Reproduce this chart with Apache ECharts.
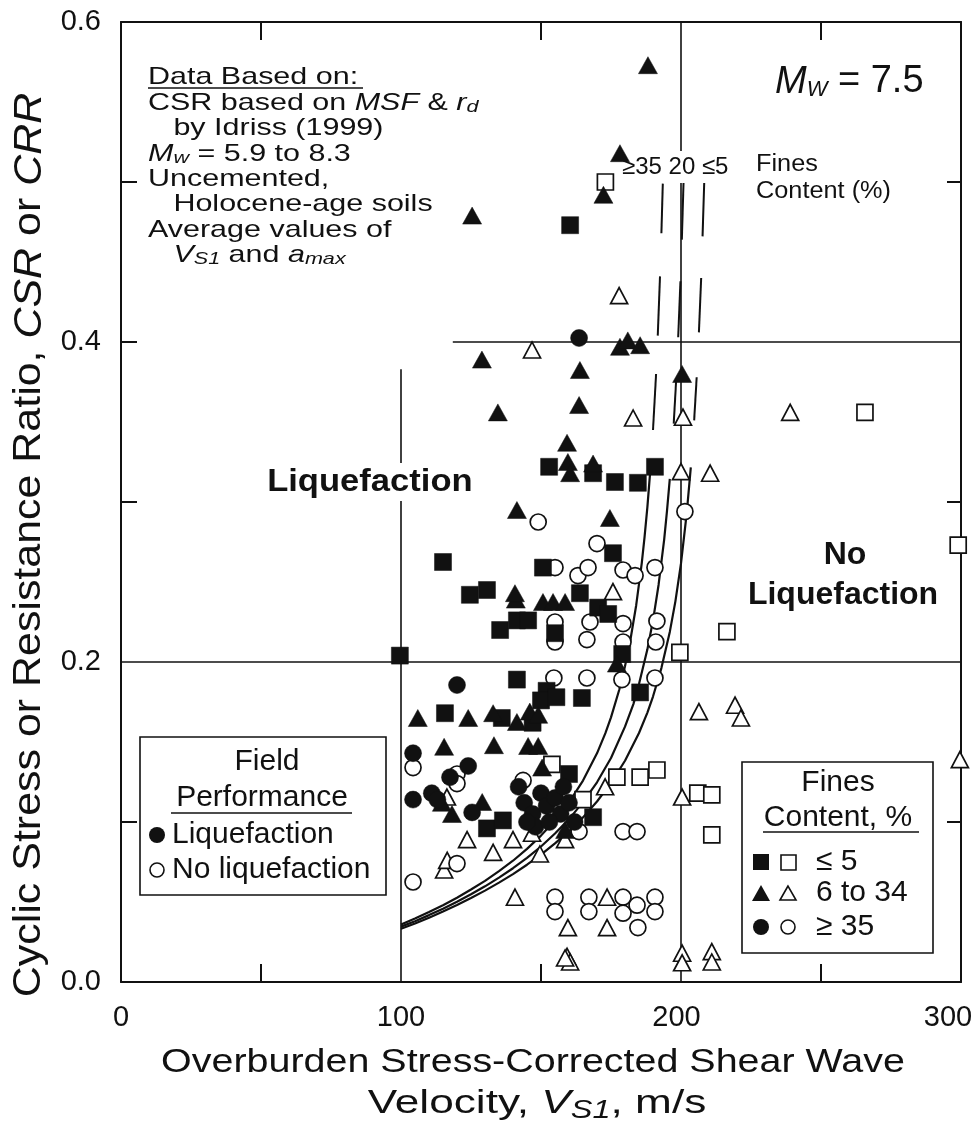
<!DOCTYPE html>
<html><head><meta charset="utf-8">
<script src="https://cdn.jsdelivr.net/npm/echarts@6/dist/echarts.min.js"></script>
<style>html,body{margin:0;padding:0;background:#fff;overflow:hidden}#c{width:980px;height:1134px}</style>
</head><body><div id="c"></div>
<script>
// ---------- data ----------
const xTickLabels = [0, 100, 200, 300];
const yTickLabels = [0.0, 0.2, 0.4, 0.6];
const xMinorTicks = [50, 150, 250];
const yLeftTicks = [0.1, 0.3, 0.4, 0.5];
const yRightTicks = [0.1, 0.3, 0.5];

const liqSquares = [[160.4,0.473],[152.9,0.322],[168.6,0.318],[176.4,0.3125],[184.6,0.312],[190.7,0.322],[175.7,0.268],[115,0.2625],[150.7,0.259],[124.6,0.242],[130.7,0.245],[163.9,0.243],[170.4,0.234],[174,0.23],[155,0.218],[135.4,0.22],[141.4,0.226],[145.4,0.226],[99.6,0.204],[179,0.205],[185.4,0.181],[164.6,0.1775],[141.4,0.189],[152,0.182],[150,0.176],[155.5,0.178],[115.7,0.168],[136,0.165],[147,0.162],[160,0.13],[130.7,0.096],[136.4,0.101],[168.6,0.103]];
const noSquares = [[173,0.5],[265.7,0.356],[299,0.273],[216.4,0.219],[199.6,0.206],[153.9,0.136],[165,0.114],[177.1,0.128],[185.4,0.128],[191.4,0.1325],[206,0.118],[211,0.117],[211,0.092]];
const liqTriangles = [[188.2,0.573],[178.2,0.518],[125.4,0.479],[172.3,0.492],[178.2,0.397],[181,0.401],[185.4,0.398],[128.9,0.389],[163.9,0.3825],[134.6,0.356],[163.6,0.3606],[159.3,0.337],[159.6,0.325],[160.4,0.318],[168.6,0.324],[141.4,0.295],[174.6,0.29],[141,0.239],[150.7,0.2375],[154.3,0.2375],[158.6,0.2375],[140.7,0.243],[200.4,0.38],[177.1,0.199],[106,0.165],[124,0.165],[132.9,0.168],[141.4,0.1625],[146,0.169],[149,0.167],[115.4,0.147],[133.2,0.148],[145.4,0.1475],[149,0.1475],[150.4,0.134],[114.6,0.112],[118.2,0.105],[129,0.1125],[158.6,0.095]];
const noTriangles = [[177.9,0.429],[146.8,0.395],[182.9,0.3525],[200,0.319],[210.4,0.318],[239,0.356],[200.7,0.353],[175.7,0.244],[172.9,0.122],[206.4,0.169],[219.3,0.173],[221.4,0.165],[200.4,0.1156],[299.6,0.139],[115.4,0.07],[116.5,0.076],[123.6,0.089],[132.9,0.081],[140,0.089],[146.8,0.093],[149.6,0.08],[158.6,0.089],[116.4,0.1156],[140.7,0.053],[159.6,0.034],[173.6,0.053],[173.6,0.034],[159.3,0.016],[160.4,0.0125],[158.6,0.015],[200.4,0.018],[200.4,0.012],[211,0.019],[211,0.0125]];
const liqCircles = [[163.6,0.4025],[120,0.1856],[104.3,0.143],[124,0.135],[117.5,0.128],[104.3,0.114],[111,0.118],[113,0.114],[125.4,0.106],[142,0.122],[144,0.112],[147,0.105],[150,0.118],[152,0.11],[155,0.115],[157,0.105],[160,0.112],[148,0.097],[153,0.1],[162,0.1],[145,0.1],[158,0.122]];
const noCircles = [[149,0.2875],[170,0.274],[155,0.259],[163.2,0.254],[166.8,0.259],[179.3,0.2575],[183.6,0.254],[190.7,0.259],[167.5,0.225],[166.4,0.214],[179.3,0.224],[179.3,0.2125],[191.4,0.2256],[191,0.2125],[155,0.225],[155,0.2125],[201.4,0.294],[178.9,0.189],[190.7,0.19],[166.4,0.19],[154.6,0.19],[104.3,0.134],[120,0.13],[120,0.124],[143.6,0.126],[179.3,0.094],[184.3,0.094],[163.6,0.094],[120,0.074],[104.3,0.0625],[155,0.053],[155,0.044],[167.1,0.053],[167.1,0.044],[179.3,0.053],[179.3,0.043],[184.3,0.048],[190.7,0.053],[190.7,0.044],[184.6,0.034]];

// CRR curves (solid part) for fines content >=35, 20, <=5 %
const crrFC35 = [[100,0.036],[105,0.0397],[110,0.0437],[115,0.048],[120,0.0527],[125,0.0578],[130,0.0632],[135,0.0693],[140,0.0758],[145,0.0832],[150,0.0915],[155,0.101],[160,0.1123],[165,0.1259],[170,0.1429],[173,0.1555],[175,0.1654],[178,0.183],[180,0.1973],[182,0.2145],[184,0.2355],[186,0.262],[187,0.2783],[188,0.297],[189,0.319]];
const crrFC20 = [[100,0.0346],[105,0.038],[110,0.0418],[115,0.0458],[120,0.0502],[125,0.0548],[130,0.0598],[135,0.0652],[140,0.0711],[145,0.0776],[150,0.0847],[155,0.0928],[160,0.1018],[165,0.1124],[170,0.1248],[175,0.14],[180,0.1596],[183,0.1737],[185,0.1862],[188,0.2079],[190,0.2259],[192,0.2483],[194,0.2767],[195,0.2945],[196,0.3145]];
const crrFC5 = [[100,0.0333],[105,0.0366],[110,0.0402],[115,0.044],[120,0.0481],[125,0.0525],[130,0.0571],[135,0.0621],[140,0.0674],[145,0.0733],[150,0.0796],[155,0.0866],[160,0.0942],[165,0.1029],[170,0.1128],[175,0.1245],[180,0.1383],[185,0.1556],[188,0.1684],[190,0.1784],[193,0.1962],[196,0.2188],[198,0.2379],[200,0.2616],[202,0.2922],[203.5,0.3216]];
// dashed upward continuation of each curve
const extFC35 = [[[190,0.345],[191.1,0.38]],[[191.7,0.404],[192.5,0.441]],[[193,0.468],[193.5,0.499]]];
const extFC20 = [[[197.4,0.349],[198.3,0.377]],[[199,0.403],[199.8,0.438]],[[200.3,0.464],[200.9,0.4995]]];
const extFC5 = [[[204.7,0.351],[205.6,0.378]],[[206.4,0.406],[207.2,0.44]],[[207.7,0.466],[208.3,0.5]]];
// reference lines inside the frame
const refLines = [[[0,0.2],[300,0.2]],[[118.5,0.4],[300,0.4]],[[100,0],[100,0.383]],[[200,0],[200,0.6]]];

// ---------- chart ----------
const F = '"Liberation Sans", Arial, Helvetica, sans-serif';
const INK = '#111';
const chart = echarts.init(document.getElementById('c'), null, {renderer:'canvas', width:980, height:1134});

function lineSeries(data, width, z) {
  return {type:'line', data:data, xAxisIndex:0, yAxisIndex:0, showSymbol:false, symbol:'none',
    smooth:false, silent:true, z:z, animation:false,
    lineStyle:{color:INK, width:width, opacity:1}};
}
const series = [];
refLines.forEach(s => series.push(lineSeries(s, 1.6, 2)));
[crrFC35, crrFC20, crrFC5].forEach(s => series.push(lineSeries(s, 2.2, 3)));
[extFC35, extFC20, extFC5].forEach(g => g.forEach(s => series.push(lineSeries(s, 2, 3))));

function scat(data, symbol, size, filled) {
  return {type:'scatter', data:data, symbol:symbol, symbolSize:size, z:filled?6:5, animation:false, silent:true,
    itemStyle: filled ? {color:INK, borderColor:INK, borderWidth:0.5, opacity:1}
                      : {color:'#fff', borderColor:INK, borderWidth:1.7, opacity:1}};
}
series.push(scat(noSquares, 'rect', 16, false));
series.push(scat(noTriangles, 'triangle', [17,16], false));
series.push(scat(noCircles, 'circle', 16, false));
series.push(scat(liqSquares, 'rect', 17, true));
series.push(scat(liqTriangles, 'triangle', [19,17], true));
series.push(scat(liqCircles, 'circle', 17, true));

const baseAxis = {
  axisLine:{show:true, onZero:false, lineStyle:{color:INK, width:2}},
  splitLine:{show:false}
};
const xAxes = [
  Object.assign({}, baseAxis, {type:'value', position:'bottom', min:0, max:300, interval:100,
    axisTick:{show:true, inside:true, length:18, customValues:xMinorTicks, lineStyle:{color:INK, width:2}},
    axisLabel:{show:true, customValues:xTickLabels, margin:21, fontSize:29, fontFamily:F, color:INK,
      showMinLabel:true, showMaxLabel:true,
      formatter: v => v === 300 ? '{r|300}' : (v === 200 ? '{m|200}' : String(v)),
      rich:{r:{fontSize:29, fontFamily:F, color:INK, padding:[0,26,0,0]},
            m:{fontSize:29, fontFamily:F, color:INK, padding:[0,9,0,0]}}}}),
  Object.assign({}, baseAxis, {type:'value', position:'top', min:0, max:300, interval:100,
    axisTick:{show:true, inside:true, length:18, customValues:xMinorTicks, lineStyle:{color:INK, width:2}},
    axisLabel:{show:false}})
];
const yAxes = [
  Object.assign({}, baseAxis, {type:'value', position:'left', min:0, max:0.6, interval:0.2,
    axisTick:{show:true, inside:true, length:16, customValues:yLeftTicks, lineStyle:{color:INK, width:2}},
    axisLabel:{show:true, customValues:yTickLabels, margin:20, fontSize:29, fontFamily:F, color:INK,
      formatter: v => Number(v).toFixed(1)}}),
  Object.assign({}, baseAxis, {type:'value', position:'right', min:0, max:0.6, interval:0.2,
    axisTick:{show:true, inside:true, length:14, customValues:yRightTicks, lineStyle:{color:INK, width:2}},
    axisLabel:{show:false}})
];

function rich(fs, sub, subLH) {
  return {
    t:{fontSize:fs, fontFamily:F, fill:INK, color:INK},
    i:{fontSize:fs, fontFamily:F, fontStyle:'italic', fill:INK, color:INK},
    s:{fontSize:sub, fontFamily:F, fontStyle:'italic', fill:INK, color:INK, verticalAlign:'bottom', lineHeight:subLH}
  };
}
function T(x, y, text, o) {
  o = o || {};
  return {type:'text', x:x, y:y, z:o.z || 50, rotation:o.rot || 0, scaleX:o.sx || 1, scaleY:o.sy || 1,
    silent:true,
    style:{text:text, rich:o.rich, fontSize:o.fs || 24, fontFamily:F, fontWeight:o.fw || 'normal',
      fontStyle:o.fst || 'normal', fill:INK,
      align:o.align || 'left', textAlign:o.align || 'left',
      verticalAlign:o.va || 'middle', textVerticalAlign:o.va || 'middle',
      lineHeight:o.lh, backgroundColor:o.bg, padding:o.pad}};
}
function L(x1, y1, x2, y2, w) {
  return {type:'line', z:50, silent:true, shape:{x1:x1,y1:y1,x2:x2,y2:y2}, style:{stroke:INK, lineWidth:w || 1.5}};
}

const dataBlock = [
  '{t|Data Based on:}',
  '{t|CSR based on }{i|MSF}{t| & }{i|r}{s|d}',
  '{t|   by Idriss (1999)}',
  '{i|M}{s|w}{t| = 5.9 to 8.3}',
  '{t|Uncemented,}',
  '{t|   Holocene-age soils}',
  '{t|Average values of}',
  '{t|   }{i|V}{s|S1}{t| and }{i|a}{s|max}'
].join('\n');

const graphics = [
  T(148, 65, dataBlock, {rich:rich(24,17,12), lh:25.4, va:'top', sx:1.27}),
  L(148, 88, 363, 88),
  T(775, 82, '{i|M}{s|W}{t| = 7.5}', {rich:rich(38,22,22)}),
  T(621, 167, '≥35 20 ≤5', {fs:24, bg:'#fff', pad:[4,1,4,1], z:4}),
  T(756, 165, 'Fines', {fs:23, sx:1.1}),
  T(756, 192, 'Content (%)', {fs:23, sx:1.1}),
  T(265, 482, 'Liquefaction', {fs:32, fw:'bold', sx:1.08, bg:'#fff', pad:[3,2,3,2], z:4}),
  T(845, 555, 'No', {fs:32, fw:'bold', align:'center'}),
  T(843, 595, 'Liquefaction', {fs:32, fw:'bold', align:'center'}),
  // Field performance legend
  {type:'rect', z:40, silent:true, shape:{x:140, y:737, width:246, height:158}, style:{fill:'#fff', stroke:INK, lineWidth:1.6}},
  T(267, 762, 'Field', {fs:30, align:'center'}),
  T(262, 798, 'Performance', {fs:30, align:'center'}),
  L(171, 813, 352, 813),
  {type:'circle', z:50, silent:true, shape:{cx:157, cy:835, r:8}, style:{fill:INK}},
  T(172, 835, 'Liquefaction', {fs:30}),
  {type:'circle', z:50, silent:true, shape:{cx:157, cy:870, r:7}, style:{fill:'#fff', stroke:INK, lineWidth:1.6}},
  T(172, 870, 'No liquefaction', {fs:30}),
  // Fines content legend
  {type:'rect', z:40, silent:true, shape:{x:742, y:762, width:191, height:191}, style:{fill:'#fff', stroke:INK, lineWidth:1.6}},
  T(838, 783, 'Fines', {fs:30, align:'center'}),
  T(838, 818, 'Content, %', {fs:30, align:'center'}),
  L(763, 832, 919, 832),
  {type:'rect', z:50, silent:true, shape:{x:753, y:854, width:16, height:16}, style:{fill:INK}},
  {type:'rect', z:50, silent:true, shape:{x:781, y:855, width:15, height:15}, style:{fill:'#fff', stroke:INK, lineWidth:1.6}},
  T(816, 862, '≤ 5', {fs:30}),
  {type:'polygon', z:50, silent:true, shape:{points:[[761,885],[752,901],[770,901]]}, style:{fill:INK}},
  {type:'polygon', z:50, silent:true, shape:{points:[[788,886],[780,900],[796,900]]}, style:{fill:'#fff', stroke:INK, lineWidth:1.6}},
  T(816, 893, '6 to 34', {fs:30}),
  {type:'circle', z:50, silent:true, shape:{cx:761, cy:927, r:8}, style:{fill:INK}},
  {type:'circle', z:50, silent:true, shape:{cx:788, cy:927, r:7}, style:{fill:'#fff', stroke:INK, lineWidth:1.6}},
  T(816, 927, '≥ 35', {fs:30}),
  // axis titles
  T(30, 545, '{t|Cyclic Stress or Resistance Ratio, }{i|CSR}{t| or }{i|CRR}', {rich:rich(38,26,20), align:'center', rot:Math.PI/2, sx:1.13}),
  T(533, 1063, 'Overburden Stress-Corrected Shear Wave', {fs:34, align:'center', sx:1.16}),
  T(537, 1104, '{t|Velocity, }{i|V}{s|S1}{t|, m/s}', {rich:rich(34,25,24), lh:40, align:'center', sx:1.3})
];

chart.setOption({
  animation:false,
  backgroundColor:'#fff',
  grid:{left:121, right:19, top:22, bottom:152, containLabel:false, outerBoundsMode:'none'},
  xAxis:xAxes,
  yAxis:yAxes,
  series:series,
  graphic:{elements:graphics}
});
</script>
</body></html>
